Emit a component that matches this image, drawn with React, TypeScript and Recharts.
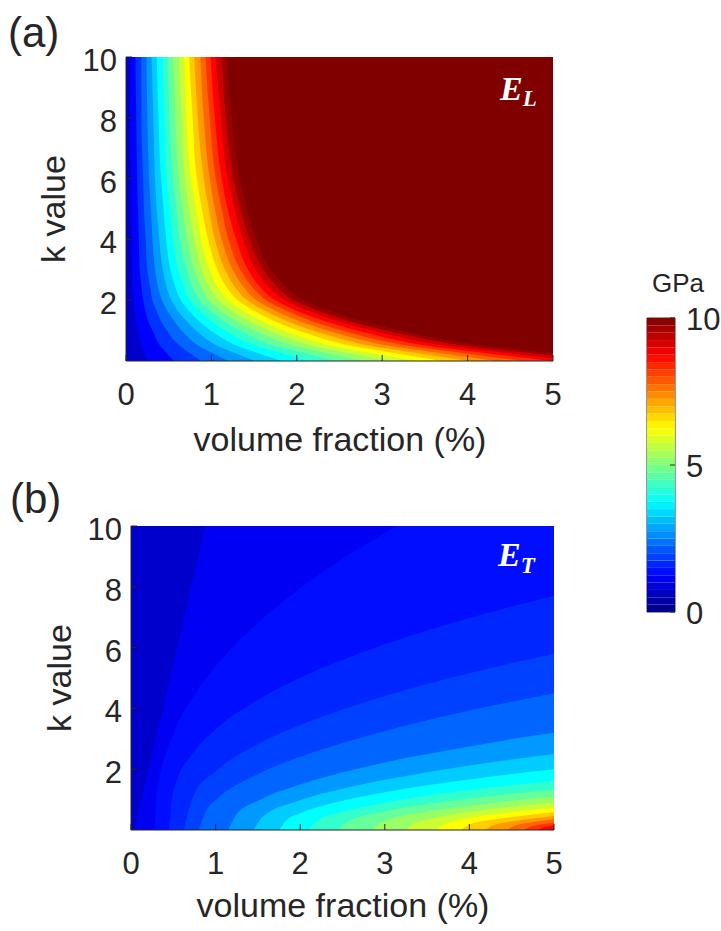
import React from 'react';
import {
  ComposedChart,
  AreaChart,
  BarChart,
  Area,
  Bar,
  XAxis,
  YAxis,
  ReferenceArea,
} from 'recharts';

const FONT = '"Liberation Sans", Arial, sans-serif';
const SERIF = '"Liberation Serif", "DejaVu Serif", serif';
const INK = '#262626';

const volFractionTicks = [0, 1, 2, 3, 4, 5];
const kTicks = [2, 4, 6, 8, 10];
const colorbarTicks = [0, 5, 10];
const colorbarLevels = [
  0, 0.25, 0.5, 0.75, 1, 1.25, 1.5, 1.75, 2, 2.25, 2.5, 2.75, 3, 3.25, 3.5, 3.75, 4, 4.25, 4.5, 4.75, 5,
  5.25, 5.5, 5.75, 6, 6.25, 6.5, 6.75, 7, 7.25, 7.5, 7.75, 8, 8.25, 8.5, 8.75, 9, 9.25, 9.5, 9.75, 10,
];
const baseLevel = 0.75; // colour below the lowest contour (GPa)

// (a) E_L : contour positions (volume fraction, %) read at these k values
const elKSamples = [0, 0.25, 0.5, 0.75, 1, 1.25, 1.5, 2, 2.5, 3, 4, 5, 6, 8, 10];
const elLevels = [1, 1.5, 2, 2.5, 3, 3.5, 4, 4.5, 5, 5.5, 6, 6.5, 7, 7.5, 8, 8.5, 9, 9.5, 10];
const elContours = [
  [0.25, 0.22, 0.18, 0.16, 0.14, 0.12, 0.11, 0.09, 0.08, 0.07, 0.07, 0.06, 0.06, 0.05, 0.05],
  [0.56, 0.48, 0.4, 0.35, 0.31, 0.27, 0.24, 0.2, 0.18, 0.16, 0.15, 0.14, 0.13, 0.12, 0.11],
  [0.88, 0.75, 0.63, 0.54, 0.48, 0.42, 0.38, 0.31, 0.28, 0.25, 0.23, 0.21, 0.2, 0.18, 0.18],
  [1.19, 1.02, 0.85, 0.74, 0.65, 0.58, 0.52, 0.42, 0.37, 0.34, 0.31, 0.29, 0.27, 0.25, 0.24],
  [1.51, 1.29, 1.07, 0.93, 0.82, 0.73, 0.65, 0.53, 0.47, 0.43, 0.39, 0.36, 0.34, 0.32, 0.3],
  [1.82, 1.56, 1.3, 1.13, 0.99, 0.88, 0.79, 0.64, 0.57, 0.52, 0.47, 0.44, 0.41, 0.38, 0.36],
  [2.13, 1.83, 1.52, 1.32, 1.16, 1.03, 0.92, 0.75, 0.67, 0.61, 0.55, 0.51, 0.48, 0.45, 0.43],
  [2.45, 2.1, 1.74, 1.51, 1.34, 1.18, 1.06, 0.86, 0.77, 0.71, 0.63, 0.59, 0.55, 0.51, 0.49],
  [2.76, 2.36, 1.97, 1.71, 1.51, 1.33, 1.19, 0.97, 0.87, 0.8, 0.72, 0.66, 0.62, 0.58, 0.55],
  [3.08, 2.63, 2.19, 1.9, 1.68, 1.49, 1.33, 1.08, 0.96, 0.89, 0.8, 0.74, 0.69, 0.65, 0.62],
  [3.39, 2.9, 2.41, 2.1, 1.85, 1.64, 1.47, 1.2, 1.06, 0.98, 0.88, 0.82, 0.76, 0.71, 0.68],
  [3.7, 3.17, 2.64, 2.29, 2.02, 1.79, 1.6, 1.31, 1.16, 1.07, 0.96, 0.89, 0.83, 0.78, 0.74],
  [4.02, 3.44, 2.86, 2.49, 2.19, 1.94, 1.74, 1.42, 1.26, 1.16, 1.04, 0.97, 0.91, 0.84, 0.8],
  [4.33, 3.71, 3.08, 2.68, 2.36, 2.09, 1.87, 1.53, 1.36, 1.25, 1.12, 1.04, 0.98, 0.91, 0.87],
  [4.64, 3.98, 3.31, 2.87, 2.53, 2.24, 2.01, 1.64, 1.46, 1.34, 1.2, 1.12, 1.05, 0.98, 0.93],
  [4.96, 4.24, 3.53, 3.07, 2.71, 2.4, 2.14, 1.75, 1.55, 1.43, 1.29, 1.19, 1.12, 1.04, 0.99],
  [5.27, 4.51, 3.75, 3.26, 2.88, 2.55, 2.28, 1.86, 1.65, 1.52, 1.37, 1.27, 1.19, 1.11, 1.05],
  [5.59, 4.78, 3.98, 3.46, 3.05, 2.7, 2.41, 1.97, 1.75, 1.61, 1.45, 1.34, 1.26, 1.17, 1.12],
  [5.9, 5.05, 4.2, 3.65, 3.22, 2.85, 2.55, 2.08, 1.85, 1.7, 1.53, 1.42, 1.33, 1.24, 1.18],
];

// (b) E_T : each contour as k (value) read along volume fraction
const etLevels = [1, 1.25, 1.5, 1.75, 2, 2.5, 3, 3.5, 4, 4.5, 5, 5.5, 6, 6.5, 7, 7.5, 8, 8.5, 9];
const etContourV = [
  [0.04, 0.46, 0.88, 1.3, 5],
  [0.28, 0.3, 0.5, 0.75, 1, 1.5, 2, 2.5, 3, 3.5, 4, 5],
  [0.45, 0.5, 0.75, 1, 1.5, 2, 2.5, 3, 3.5, 4, 4.5, 5],
  [0.62, 0.75, 1, 1.5, 2, 2.5, 3, 3.5, 4, 4.5, 5],
  [0.8, 0.9, 1, 1.5, 2, 2.5, 3, 3.5, 4, 4.5, 5],
  [1.15, 1.25, 1.5, 2, 2.5, 3, 3.5, 4, 4.5, 5],
  [1.45, 1.55, 2, 2.5, 3, 3.5, 4, 4.5, 5],
  [1.75, 1.85, 2, 2.5, 3, 3.5, 4, 4.5, 5],
  [2.1, 2.2, 2.5, 3, 3.5, 4, 4.5, 5],
  [2.45, 2.55, 3, 3.5, 4, 4.5, 5],
  [2.85, 2.95, 3.5, 4, 4.5, 5],
  [3.25, 3.35, 3.5, 4, 4.5, 5],
  [3.6, 3.7, 4, 4.5, 5],
  [3.9, 4, 4.25, 4.5, 4.75, 5],
  [4.2, 4.25, 4.5, 4.75, 5],
  [4.45, 4.5, 4.75, 5],
  [4.65, 4.7, 4.85, 5],
  [4.82, 4.86, 4.93, 5],
  [4.95, 5],
];
const etContourK = [
  [0, 5, 10, 15, 15],
  [0, 1.1, 3.15, 4.44, 5.38, 6.82, 7.95, 8.92, 9.77, 10.6, 11.25, 12.5],
  [0, 1.27, 2.59, 3.31, 4.28, 5.01, 5.6, 6.11, 6.56, 6.97, 7.35, 7.7],
  [0, 1.19, 1.93, 2.82, 3.45, 3.96, 4.41, 4.8, 5.16, 5.49, 5.8],
  [0, 0.69, 0.98, 1.84, 2.41, 2.86, 3.26, 3.61, 3.93, 4.22, 4.5],
  [0, 0.52, 0.96, 1.5, 1.89, 2.22, 2.5, 2.75, 2.99, 3.2],
  [0, 0.42, 0.98, 1.36, 1.65, 1.9, 2.12, 2.32, 2.5],
  [0, 0.35, 0.55, 0.96, 1.24, 1.47, 1.66, 1.84, 2],
  [0, 0.3, 0.6, 0.9, 1.13, 1.31, 1.47, 1.62],
  [0, 0.26, 0.62, 0.85, 1.04, 1.19, 1.33],
  [0, 0.24, 0.6, 0.8, 0.96, 1.1],
  [0, 0.22, 0.34, 0.59, 0.76, 0.9],
  [0, 0.19, 0.39, 0.58, 0.72],
  [0, 0.18, 0.33, 0.43, 0.51, 0.58],
  [0, 0.12, 0.28, 0.38, 0.46],
  [0, 0.11, 0.26, 0.35],
  [0, 0.09, 0.18, 0.24],
  [0, 0.07, 0.12, 0.15],
  [0, 0.05],
];

// matlab "jet" colormap on 0..10 GPa
function jet(value: number) {
  const t = Math.min(1, Math.max(0, value / 10));
  const c = (x: number) => Math.round(255 * Math.min(1, Math.max(0, x)));
  return `rgb(${c(1.5 - Math.abs(4 * t - 3))},${c(1.5 - Math.abs(4 * t - 2))},${c(1.5 - Math.abs(4 * t - 1))})`;
}

function bandColor(levels: number[], i: number) {
  const next = i + 1 < levels.length ? levels[i + 1] : levels[i];
  return jet((levels[i] + next) / 2);
}

const XTick = ({ x, y, payload }: any) => (
  <text x={x} y={y + 23} textAnchor="middle" fontSize={31} fontFamily={FONT} fill={INK}>
    {payload.value}
  </text>
);

const YTick = ({ x, y, payload }: any) => (
  <text x={x} y={y + 14} textAnchor="end" fontSize={31} fontFamily={FONT} fill={INK}>
    {payload.value}
  </text>
);

const CbTick = ({ x, y, payload }: any) => (
  <text x={x} y={y + 12} textAnchor="start" fontSize={31} fontFamily={FONT} fill={INK}>
    {payload.value}
  </text>
);

function ElPanel() {
  const data = elKSamples.map((k, i) => {
    const row: Record<string, number> = { k };
    elContours.forEach((c, j) => {
      row[`c${j}`] = c[i];
    });
    return row;
  });
  return (
    <ComposedChart
      layout="vertical"
      width={600}
      height={420}
      data={data}
      margin={{ top: 57, right: 47, bottom: 9, left: 66 }}
    >
      <XAxis
        type="number"
        domain={[0, 5]}
        ticks={volFractionTicks}
        interval={0}
        allowDataOverflow
        height={50}
        tickSize={-6}
        tickMargin={27}
        tick={XTick}
        stroke={INK}
      />
      <XAxis
        xAxisId="top"
        orientation="top"
        type="number"
        domain={[0, 5]}
        ticks={volFractionTicks}
        interval={0}
        height={0}
        tickSize={-6}
        tick={false}
        stroke="#9a9a9a"
      />
      <YAxis
        type="number"
        dataKey="k"
        domain={[0, 10]}
        ticks={kTicks}
        interval={0}
        reversed
        allowDataOverflow
        width={60}
        tickSize={-6}
        tickMargin={15}
        tick={YTick}
        stroke={INK}
      />
      <YAxis
        yAxisId="right"
        orientation="right"
        type="number"
        domain={[0, 10]}
        ticks={kTicks}
        interval={0}
        reversed
        width={0}
        tickSize={-6}
        tick={false}
        stroke="#9a9a9a"
      />
      <Area
        dataKey={() => [0, 5]}
        type="linear"
        fill={jet(baseLevel)}
        fillOpacity={1}
        stroke="none"
        isAnimationActive={false}
      />
      {elLevels.map((level, j) => (
        <Area
          key={level}
          type="monotone"
          dataKey={(d: Record<string, number>) => [d[`c${j}`], 5]}
          fill={bandColor(elLevels, j)}
          fillOpacity={1}
          stroke="none"
          isAnimationActive={false}
        />
      ))}
    </ComposedChart>
  );
}

function EtPanel() {
  const base = [
    { v: 0, k: 10 },
    { v: 5, k: 10 },
  ];
  return (
    <AreaChart width={600} height={420} margin={{ top: 56, right: 46, bottom: 10, left: 71 }}>
      <XAxis
        type="number"
        dataKey="v"
        domain={[0, 5]}
        ticks={volFractionTicks}
        interval={0}
        allowDataOverflow
        height={50}
        tickSize={-6}
        tickMargin={27}
        tick={XTick}
        stroke={INK}
      />
      <XAxis
        xAxisId="top"
        orientation="top"
        type="number"
        dataKey="v"
        domain={[0, 5]}
        ticks={volFractionTicks}
        interval={0}
        height={0}
        tickSize={-6}
        tick={false}
        stroke="#9a9a9a"
      />
      <YAxis
        type="number"
        domain={[0, 10]}
        ticks={kTicks}
        interval={0}
        allowDataOverflow
        width={60}
        tickSize={-6}
        tickMargin={15}
        tick={YTick}
        stroke={INK}
      />
      <YAxis
        yAxisId="right"
        orientation="right"
        type="number"
        domain={[0, 10]}
        ticks={kTicks}
        interval={0}
        width={0}
        tickSize={-6}
        tick={false}
        stroke="#9a9a9a"
      />
      <Area
        data={base}
        dataKey="k"
        type="linear"
        fill={jet(baseLevel)}
        fillOpacity={1}
        stroke="none"
        isAnimationActive={false}
      />
      {etLevels.map((level, j) => (
        <Area
          key={level}
          data={etContourV[j].map((v, i) => ({ v, k: etContourK[j][i] }))}
          dataKey="k"
          type="monotone"
          fill={bandColor(etLevels, j)}
          fillOpacity={1}
          stroke="none"
          isAnimationActive={false}
        />
      ))}
    </AreaChart>
  );
}

function Colorbar() {
  const bands = colorbarLevels.slice(0, -1);
  const row: Record<string, number | string> = { name: 'GPa' };
  bands.forEach((lv, i) => {
    row[`b${i}`] = colorbarLevels[i + 1] - lv;
  });
  return (
    <BarChart
      width={121}
      height={360}
      data={[row]}
      margin={{ top: 38, right: 6, bottom: 28, left: 47 }}
      barCategoryGap={0}
    >
      <XAxis dataKey="name" hide />
      <YAxis
        orientation="right"
        type="number"
        domain={[0, 10]}
        ticks={colorbarTicks}
        interval={0}
        width={40}
        axisLine={false}
        tickSize={-5}
        tickMargin={16}
        tick={CbTick}
        stroke={INK}
      />
      {bands.map((lv, i) => (
        <Bar
          key={lv}
          dataKey={`b${i}`}
          stackId="cb"
          fill={jet(lv + (colorbarLevels[i + 1] - lv) / 2)}
          isAnimationActive={false}
        />
      ))}
      <ReferenceArea y1={0} y2={10} fill="none" stroke="#333333" strokeWidth={1} ifOverflow="visible" />
    </BarChart>
  );
}

export default function App() {
  return (
    <div
      style={{
        position: 'absolute',
        left: 0,
        top: 0,
        width: 721,
        height: 931,
        background: '#ffffff',
        overflow: 'hidden',
      }}
    >
      <div style={{ position: 'absolute', left: 0, top: 0 }}>
        <ElPanel />
      </div>
      <div style={{ position: 'absolute', left: 0, top: 470 }}>
        <EtPanel />
      </div>
      <div style={{ position: 'absolute', left: 600, top: 280 }}>
        <Colorbar />
      </div>
      <svg
        width={721}
        height={931}
        style={{ position: 'absolute', left: 0, top: 0, pointerEvents: 'none' }}
      >
        <g fontFamily={FONT} fill={INK}>
          <text x={8} y={47} fontSize={42}>(a)</text>
          <text x={10} y={513} fontSize={42}>(b)</text>
          <text x={65} y={209} fontSize={34} textAnchor="middle" transform="rotate(-90 65 209)">
            k value
          </text>
          <text x={71} y={678} fontSize={34} textAnchor="middle" transform="rotate(-90 71 678)">
            k value
          </text>
          <text x={340} y={451} fontSize={34} textAnchor="middle">volume fraction (%)</text>
          <text x={343} y={917} fontSize={34} textAnchor="middle">volume fraction (%)</text>
          <text x={678} y={292} fontSize={26} textAnchor="middle">GPa</text>
        </g>
        <g fontFamily={SERIF} fill="#ffffff" fontStyle="italic" fontWeight="bold">
          <text x={500} y={100} fontSize={34}>
            E<tspan fontSize={23} dy={6}>L</tspan>
          </text>
          <text x={498} y={566} fontSize={34}>
            E<tspan fontSize={23} dy={7}>T</tspan>
          </text>
        </g>
      </svg>
    </div>
  );
}
